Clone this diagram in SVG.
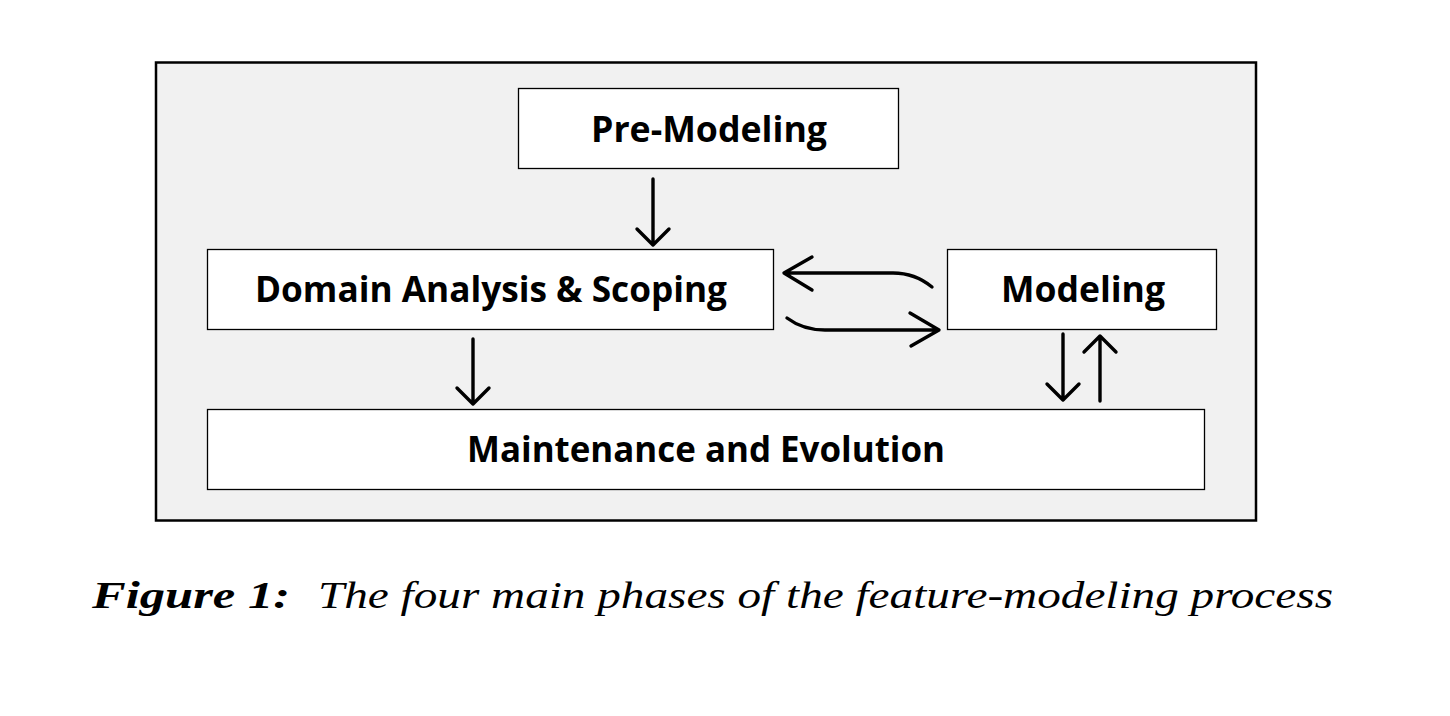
<svg xmlns="http://www.w3.org/2000/svg" width="1450" height="716" viewBox="0 0 1450 716">
<style>
.box{fill:#ffffff;stroke:#000;stroke-width:1.3}
.lbl{font-family:"Open Sans","Liberation Sans",sans-serif;font-weight:bold;font-size:35px;fill:#000;text-anchor:middle}
.cn{fill:none;stroke:#000;stroke-width:3.4;stroke-linecap:round;stroke-linejoin:round}
.cap{font-family:"Liberation Serif","DejaVu Serif",serif;font-style:italic;font-size:38px;fill:#000}
</style>
<rect width="1450" height="716" fill="#fff"/>
<rect id="frame" x="156" y="62.5" width="1100" height="458" fill="#f1f1f1" stroke="#000" stroke-width="2.5"/>
<g id="premodeling">
<rect class="box" x="518.5" y="88.5" width="380" height="80"/>
<text class="lbl" x="709" y="142" textLength="236" lengthAdjust="spacingAndGlyphs">Pre-Modeling</text>
</g>
<g id="domain">
<rect class="box" x="207.5" y="249.5" width="566" height="80"/>
<text class="lbl" x="491" y="302" textLength="472" lengthAdjust="spacingAndGlyphs">Domain Analysis &amp; Scoping</text>
</g>
<g id="modeling">
<rect class="box" x="947.5" y="249.5" width="269" height="80"/>
<text class="lbl" x="1083" y="302" textLength="164" lengthAdjust="spacingAndGlyphs">Modeling</text>
</g>
<g id="maintenance">
<rect class="box" x="207.5" y="409.5" width="997" height="80"/>
<text class="lbl" x="706" y="462" textLength="478" lengthAdjust="spacingAndGlyphs">Maintenance and Evolution</text>
</g>
<g id="connectors">
<path class="cn" d="M653 179 V245 M637 229 L653 245 L669 229"/>
<path class="cn" d="M473 339 V404 M457 388 L473 404 L489 388"/>
<path class="cn" d="M1063 334 V400 M1047 384 L1063 400 L1079 384"/>
<path class="cn" d="M1100 401 V336 M1084 352 L1100 336 L1116 352"/>
<path class="cn" d="M932 287 Q915 273 893 273 H784 M812 257 L784 273 L812 290"/>
<path class="cn" d="M787 318 Q803 330 825 330 H939 M910 313 L939 330 L911 346"/>
</g>
<g id="caption">
<text class="cap" x="92" y="608" font-weight="bold" textLength="198" lengthAdjust="spacingAndGlyphs">Figure 1:</text>
<text class="cap" x="318" y="608" textLength="1015" lengthAdjust="spacingAndGlyphs">The four main phases of the feature-modeling process</text>
</g>
</svg>
